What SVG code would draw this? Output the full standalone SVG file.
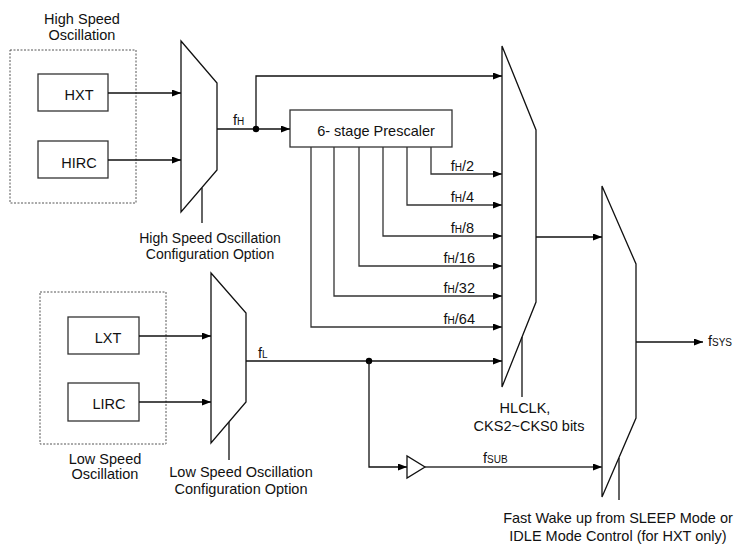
<svg xmlns="http://www.w3.org/2000/svg" width="735" height="544" viewBox="0 0 735 544">
<defs>
<marker id="arr" markerUnits="userSpaceOnUse" markerWidth="10" markerHeight="8" refX="9" refY="3.5" orient="auto">
<path d="M0,0 L9,3.5 L0,7 z" fill="#000"/>
</marker>
<style>
text{font-family:"Liberation Sans",Arial,sans-serif;font-size:14.5px;fill:#111}
.c{text-anchor:middle}
.e{text-anchor:end}
.sm{font-size:14px}
.sub{font-size:10px}
.box{fill:#fff;stroke:#333;stroke-width:1.3}
.dash{fill:none;stroke:#555;stroke-width:1;stroke-dasharray:2,1.5}
.mux{fill:#fff;stroke:#111;stroke-width:1.3}
.ln{fill:none;stroke:#111;stroke-width:1.3}
.g{stroke:#333}
.a{marker-end:url(#arr)}
</style>
</defs>
<rect width="735" height="544" fill="#fff"/>

<g id="high-osc-group">
<rect class="dash" x="10" y="50" width="126" height="153"/>
<text class="c" x="82" y="24">High Speed</text>
<text class="c" x="82" y="40">Oscillation</text>
</g>
<g id="hxt"><rect class="box" x="38" y="74" width="70" height="37"/><text class="c" x="79" y="100">HXT</text></g>
<g id="hirc"><rect class="box" x="38" y="141" width="70" height="37"/><text class="c" x="79" y="168">HIRC</text></g>
<g id="mux-high">
<polygon class="mux" points="181,41 217,83 217,170 181,212"/>
<text class="c sm" x="210" y="243">High Speed Oscillation</text>
<text class="c sm" x="210" y="259">Configuration Option</text>
</g>
<g id="prescaler"><rect class="box" x="290" y="110" width="162" height="37"/><text class="c" x="376" y="136">6- stage Prescaler</text></g>

<g id="low-osc-group">
<rect class="dash" x="40" y="292" width="126" height="152"/>
<text class="c" x="105" y="464">Low Speed</text>
<text class="c" x="105" y="479">Oscillation</text>
</g>
<g id="lxt"><rect class="box" x="68" y="317" width="71" height="37"/><text class="c" x="108" y="343">LXT</text></g>
<g id="lirc"><rect class="box" x="68" y="383" width="71" height="38"/><text class="c" x="109" y="409">LIRC</text></g>
<g id="mux-low">
<polygon class="mux" points="211,273 246,313 246,402 211,443"/>
<text class="c" x="241" y="477">Low Speed Oscillation</text>
<text class="c" x="241" y="494">Configuration Option</text>
</g>

<g id="mux-hlclk">
<polygon class="mux" points="502,46 536,130 536,302 502,387"/>
<text class="c" x="525" y="413">HLCLK,</text>
<text class="c" x="529" y="431">CKS2~CKS0 bits</text>
</g>
<g id="mux-sys">
<polygon class="mux" points="602,186 636,264 636,418 602,497"/>
<text class="c" x="618" y="523">Fast Wake up from SLEEP Mode or</text>
<text class="c" x="618" y="541">IDLE Mode Control (for HXT only)</text>
</g>
<g id="buffer"><polygon class="mux" points="407,456 407,478 425,467"/></g>

<g id="connectors">
<line class="ln a" x1="108" y1="93" x2="181" y2="93"/>
<line class="ln a" x1="108" y1="160" x2="181" y2="160"/>
<line class="ln" x1="202" y1="188" x2="202" y2="223"/>
<line class="ln a" x1="217" y1="129" x2="290" y2="129"/>
<polyline class="ln a" points="256,129 256,76 502,76"/>
<circle cx="256" cy="129" r="3.2" fill="#000"/>
<text x="233" y="125">f<tspan class="sub">H</tspan></text>

<polyline class="ln g a" points="431,147 431,174 502,174"/>
<polyline class="ln g a" points="407,147 407,205 502,205"/>
<polyline class="ln g a" points="383,147 383,236 502,236"/>
<polyline class="ln g a" points="359,147 359,266 502,266"/>
<polyline class="ln g a" points="334,147 334,296 502,296"/>
<polyline class="ln g a" points="311,147 311,327 502,327"/>
<text class="e" x="474" y="171">f<tspan class="sub">H</tspan>/2</text>
<text class="e" x="474" y="202">f<tspan class="sub">H</tspan>/4</text>
<text class="e" x="474" y="233">f<tspan class="sub">H</tspan>/8</text>
<text class="e" x="475" y="263">f<tspan class="sub">H</tspan>/16</text>
<text class="e" x="475" y="293">f<tspan class="sub">H</tspan>/32</text>
<text class="e" x="475" y="324">f<tspan class="sub">H</tspan>/64</text>

<line class="ln a" x1="139" y1="336" x2="211" y2="336"/>
<line class="ln a" x1="139" y1="402" x2="211" y2="402"/>
<line class="ln" x1="229" y1="422" x2="229" y2="460"/>
<line class="ln a" x1="246" y1="361" x2="502" y2="361"/>
<text x="258" y="358">f<tspan class="sub">L</tspan></text>
<circle cx="369" cy="361" r="3.2" fill="#000"/>
<polyline class="ln a" points="369,361 369,467 407,467"/>
<line class="ln g a" x1="425" y1="467" x2="602" y2="467"/>
<text x="483" y="463">f<tspan class="sub">SUB</tspan></text>

<line class="ln" x1="522" y1="337" x2="522" y2="397"/>
<line class="ln a" x1="536" y1="237" x2="602" y2="237"/>
<line class="ln" x1="619" y1="458" x2="619" y2="500"/>
<line class="ln a" x1="636" y1="342" x2="703" y2="342"/>
<text x="708" y="346">f<tspan class="sub">SYS</tspan></text>
</g>
</svg>
